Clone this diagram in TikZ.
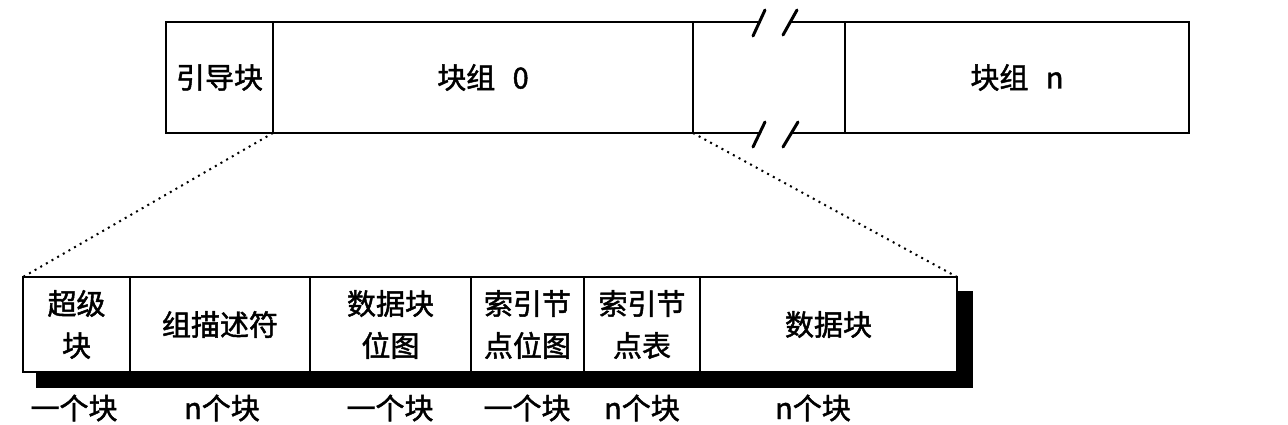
\documentclass[tikz,border=0pt]{standalone}
\usepackage{fontspec}
\setmainfont[FakeBold=1.6,AutoFakeBold=1.6]{Noto Sans CJK SC}
\begin{document}
\begin{tikzpicture}[x=1pt,y=-1pt,
  cell/.style={draw, line width=2.6pt, fill=white, anchor=north west, inner sep=0pt, outer sep=0pt, align=center, font=\fontsize{29}{42}\selectfont\bfseries},
  lbl/.style={font=\fontsize{29}{34}\selectfont\bfseries, inner sep=0pt},
  brk/.style={line width=3pt, line cap=round},
  zoomline/.style={line width=2pt, dash pattern=on 2pt off 4.5pt}]
\useasboundingbox (0,0) rectangle (1288,424);
% top bar
\node[cell, minimum width=107pt, minimum height=111pt] (boot) at (166,22) {引导块};
\node[cell, minimum width=420pt, minimum height=111pt] (g0) at (273,22) {块组\hspace{0.6em}0};
\node[cell, minimum width=344pt, minimum height=111pt] (gn) at (845,22) {块组\hspace{0.6em}n};
\node[anchor=north west, minimum width=152pt, minimum height=111pt, inner sep=0pt, outer sep=0pt] (gap) at (693,22) {};
\coordinate (t1) at (759,22);
\coordinate (t2) at (790,22);
\coordinate (b1) at (759,133);
\coordinate (b2) at (790,133);
\draw[line width=2.6pt] (g0.north east) -- (t1);
\draw[line width=2.6pt] (t2) -- (gn.north west);
\draw[line width=2.6pt] (g0.south east) -- (b1);
\draw[line width=2.6pt] (b2) -- (gn.south west);
\draw[brk] (753,36) -- (765,10);
\draw[brk] (783,35) -- (797,10);
\draw[brk] (753,147) -- (765,122);
\draw[brk] (783,147) -- (798,122);
% shadow
\fill[black] (36,291) rectangle (973,388);
% bottom row
\node[cell, minimum width=107pt, minimum height=95pt] (sb) at (23,277) {超级\\块};
\node[cell, minimum width=180pt, minimum height=95pt] (gd) at (130,277) {组描述符};
\node[cell, minimum width=161pt, minimum height=95pt] (bb) at (310,277) {数据块\\位图};
\node[cell, minimum width=113pt, minimum height=95pt] (ib) at (471,277) {索引节\\点位图};
\node[cell, minimum width=116pt, minimum height=95pt] (it) at (584,277) {索引节\\点表};
\node[cell, minimum width=257pt, minimum height=95pt] (db) at (700,277) {数据块};
% zoom lines
\draw[zoomline] (boot.south east) -- (sb.north west);
\draw[zoomline] (g0.south east) -- (db.north east);
% labels
\node[lbl] (l1) at (74,408) {一个块};
\node[lbl] (l2) at (222,408) {n个块};
\node[lbl] (l3) at (390,408) {一个块};
\node[lbl] (l4) at (527,408) {一个块};
\node[lbl] (l5) at (642,408) {n个块};
\node[lbl] (l6) at (813,408) {n个块};
\end{tikzpicture}
\end{document}
